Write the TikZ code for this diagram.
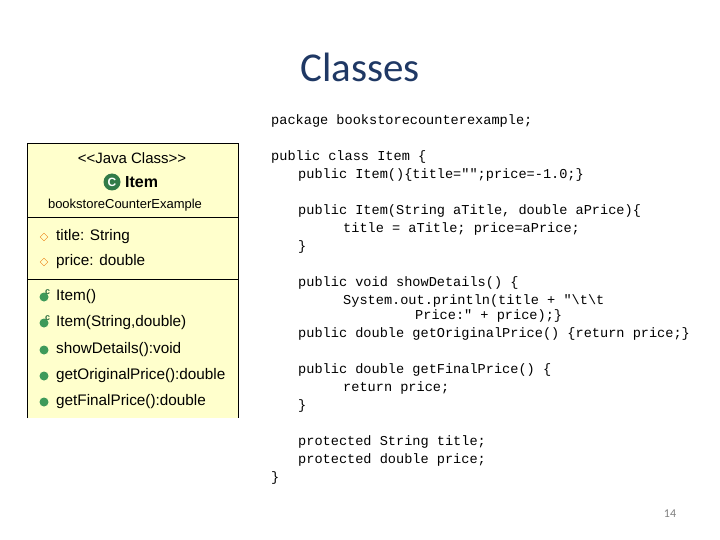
\documentclass[tikz,border=0pt]{standalone}
\usepackage{fontspec}
\setmainfont{Liberation Sans}
\newfontfamily\codefont{Liberation Mono}
\newfontfamily\titlefont{Carlito}
\usetikzlibrary{shapes.geometric}
\definecolor{umlfill}{HTML}{FFFFCC}
\definecolor{titleblue}{HTML}{1F3864}
\definecolor{dotgreen}{HTML}{3E9A5A}
\begin{document}
\begin{tikzpicture}[x = 1pt, y = -1pt, every node/.style = {inner sep = 0pt},
    code/.style = {anchor = west, font = \codefont\fontsize{13.6}{15}\selectfont},
    member/.style = {anchor = west, font = \fontsize{15.3}{18}\selectfont},
    dot/.style = {circle, fill = dotgreen, minimum size = 9pt},
    field/.style = {diamond, draw = orange!70!brown, minimum size = 8pt}]
    \useasboundingbox (0, 0) rectangle (720, 540);
    \node[font = \titlefont\fontsize{41}{43}\selectfont, text = titleblue] (title) at (360, 67) {Classes};
    % class box
    \fill[umlfill] (27, 143) rectangle (238, 418);
    \draw (27, 418) -- (27, 143) -- (238, 143) -- (238, 418);
    \draw (27, 217) -- (238, 217);
    \draw (27, 279) -- (238, 279);
    \node[font = \fontsize{15}{17}\selectfont] (stereo) at (132, 158) {<{}<Java Class>{}>};
    \node[circle, fill = dotgreen!80!black, minimum size = 17pt, font = \bfseries\fontsize{12}{12}\selectfont, text = white] (cicon) at (112, 182) {C};
    \node[anchor = west, font = \bfseries\fontsize{16}{18}\selectfont] (cname) at (125, 182) {Item};
    \node[font = \fontsize{13}{15}\selectfont] (pkg) at (125, 205) {bookstoreCounterExample};
    \node[field] (f1) at (44, 237) {};
    \node[member] (title1) at (56, 237) {title: String};
    \node[field] (f2) at (44, 262) {};
    \node[member] (price1) at (56, 262) {price: double};
    \node[dot] (m1) at (44, 297) {};
    \node[anchor = south west, font = \bfseries\fontsize{9}{9}\selectfont, text = dotgreen!70!black] (c1) at (45, 295) {c};
    \node[member] (ctor1) at (56, 297) {Item()};
    \node[dot] (m2) at (44, 323) {};
    \node[anchor = south west, font = \bfseries\fontsize{9}{9}\selectfont, text = dotgreen!70!black] (c2) at (45, 321) {c};
    \node[member] (ctor2) at (56, 323) {Item(String,double)};
    \node[dot] (m3) at (44, 350) {};
    \node[member] (show) at (56, 350) {showDetails():void};
    \node[dot] (m4) at (44, 376) {};
    \node[member] (orig) at (56, 376) {getOriginalPrice():double};
    \node[dot] (m5) at (44, 402) {};
    \node[member] (final) at (56, 402) {getFinalPrice():double};
    % source code
    \node[code] (l1) at (271, 121) {package bookstorecounterexample;};
    \node[code] (l2) at (271, 157) {public class Item \{};
    \node[code] (l3) at (298, 175) {public Item()\{title="";price=-1.0;\}};
    \node[code] (l4) at (298, 211) {public Item(String aTitle, double aPrice)\{};
    \node[code] (l5) at (343, 229) {title = aTitle; price=aPrice;};
    \node[code] (l6) at (298, 247) {\}};
    \node[code] (l7) at (298, 283) {public void showDetails() \{};
    \node[code] (l8) at (343, 301) {System.out.println(title + "\textbackslash t\textbackslash t};
    \node[code] (l9) at (415, 316) {Price:" + price);\}};
    \node[code] (l10) at (298, 334) {public double getOriginalPrice() \{return price;\}};
    \node[code] (l11) at (298, 370) {public double getFinalPrice() \{};
    \node[code] (l12) at (343, 388) {return price;};
    \node[code] (l13) at (298, 406) {\}};
    \node[code] (l14) at (298, 442) {protected String title;};
    \node[code] (l15) at (298, 460) {protected double price;};
    \node[code] (l16) at (271, 478) {\}};
    \node[font = \titlefont\fontsize{12}{12}\selectfont, text = gray] (page) at (670, 514) {14};
\end{tikzpicture}
\end{document}
